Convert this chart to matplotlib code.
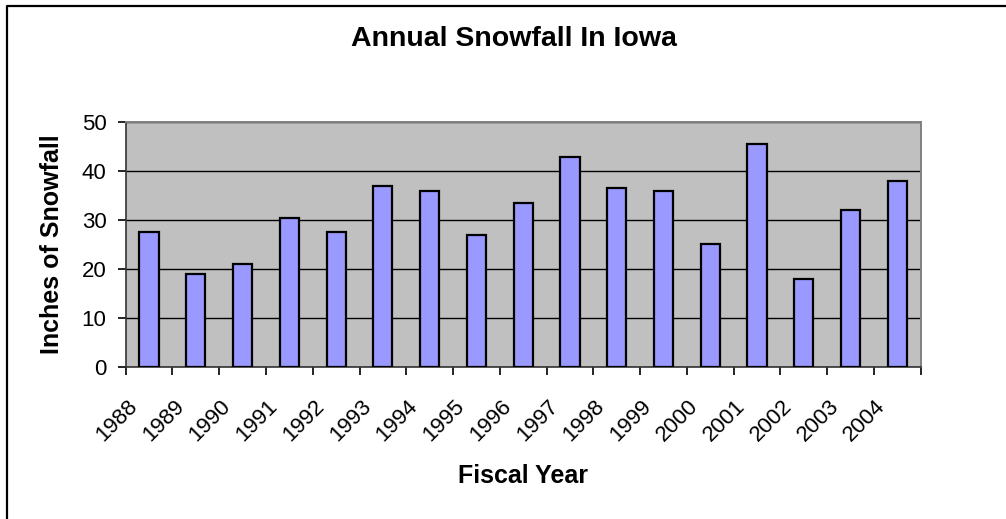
import matplotlib.pyplot as plt
import matplotlib.lines as mlines
import matplotlib.transforms as mtransforms
import numpy as np

# Fiscal years and snowfall (inches)
YEARS = ["1988", "1989", "1990", "1991", "1992", "1993", "1994", "1995", "1996",
         "1997", "1998", "1999", "2000", "2001", "2002", "2003", "2004"]
SNOWFALL = [27.5, 19, 21, 30.5, 27.5, 37, 36, 27, 33.5,
            43, 36.5, 36, 25, 45.5, 18, 32, 38]

Y_TICKS = [0, 10, 20, 30, 40, 50]

W, H = 1006, 519

plt.rcParams.update({
    "font.family": ["Liberation Sans", "DejaVu Sans"],
    "font.size": 16,
})

fig = plt.figure(figsize=(W / 100, H / 100), dpi=100, facecolor="white")
# plot area: x 125.7..920.7 px, y 122.3..366.7 px
ax = fig.add_axes([125.7 / W, (H - 366.7) / H, 795 / W, 244.4 / H])
ax.set_facecolor("#C0C0C0")

x = np.arange(len(YEARS))
ax.bar(x, SNOWFALL, width=0.41, color="#9999FF", edgecolor="black",
       linewidth=1.6, zorder=3)

ax.set_xlim(-0.5, len(YEARS) - 0.5)
ax.set_ylim(0, 50)
ax.set_yticks(Y_TICKS)
ax.grid(axis="y", color="black", linewidth=1.0, zorder=1)

# labels at category centres, tick marks at category boundaries
ax.set_xticks(x)
ax.set_xticklabels(YEARS, rotation=45, ha="right", va="center",
                   rotation_mode="anchor", fontsize=16)
ax.tick_params(axis="x", which="major", length=0, pad=26.5)
shift = mtransforms.ScaledTranslation(-15 / 100, 0, fig.dpi_scale_trans)
for lbl in ax.get_xticklabels():
    lbl.set_transform(lbl.get_transform() + shift)
ax.set_xticks(np.arange(-0.5, len(YEARS)), minor=True)
ax.tick_params(axis="x", which="minor", length=5.8, width=1.2, direction="out")
ax.tick_params(axis="y", length=5.8, width=1.2, direction="out", pad=8,
               labelsize=16)

for side in ["top", "right"]:
    ax.spines[side].set_color("#808080")
    ax.spines[side].set_linewidth(1.4)
for side in ["left", "bottom"]:
    ax.spines[side].set_color("#333333")
    ax.spines[side].set_linewidth(1.2)

ax.set_xlabel("Fiscal Year", fontsize=18, fontweight="bold")
ax.xaxis.set_label_coords((522.5 - 125.7) / 795, -(476 - 366.7) / 244.4)
ax.xaxis.label.set_va("center")
ax.set_ylabel("Inches of Snowfall", fontsize=18, fontweight="bold")
ax.yaxis.set_label_coords((52.5 - 125.7) / 795, 0.5)
ax.yaxis.label.set_va("center")

fig.text(514 / W, 1 - 39 / H, "Annual Snowfall In Iowa", ha="center",
         va="center", fontsize=20.5, fontweight="bold")

# outer chart-area border (only left and top edges fall inside the image)
fig.lines.append(mlines.Line2D([7 / W, 7 / W, 1.0], [0.0, 1 - 5.5 / H, 1 - 5.5 / H],
                               transform=fig.transFigure, color="black",
                               linewidth=1.6))

fig.savefig("out.png", dpi=100, facecolor="white")
